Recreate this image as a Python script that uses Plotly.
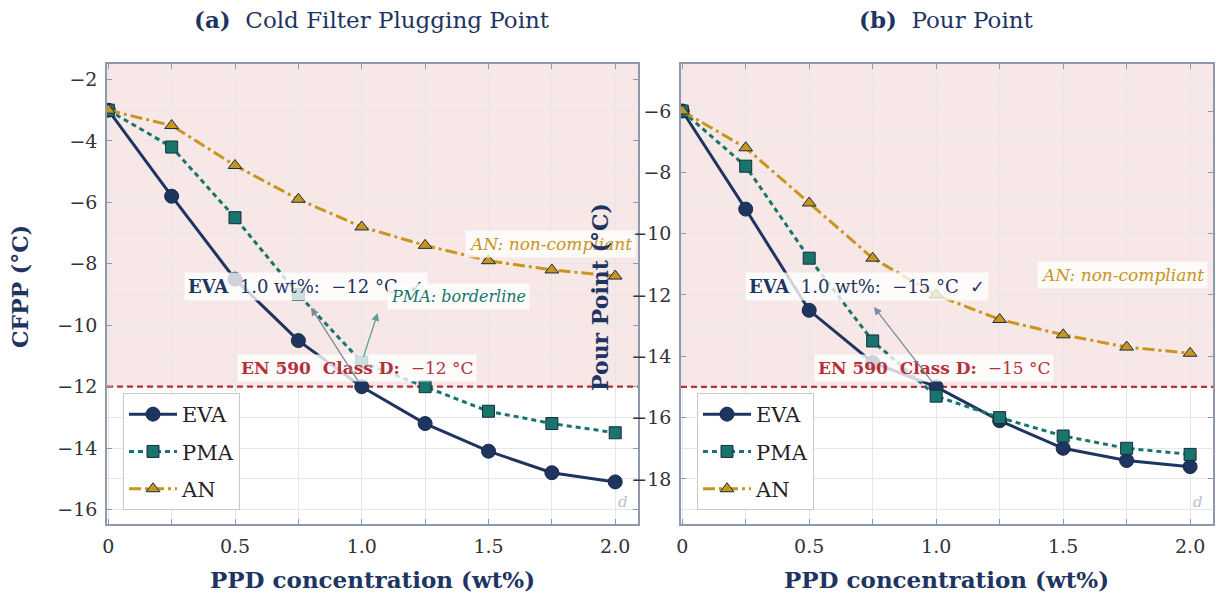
import plotly.graph_objects as go

# PPD dosage (wt%)
conc = [0, 0.25, 0.5, 0.75, 1.0, 1.25, 1.5, 1.75, 2.0]

# Cold filter plugging point (°C)
cfpp_eva = [-3, -5.8, -8.5, -10.5, -12.0, -13.2, -14.1, -14.8, -15.1]
cfpp_pma = [-3, -4.2, -6.5, -9.0, -11.2, -12.0, -12.8, -13.2, -13.5]
cfpp_an = [-3, -3.5, -4.8, -5.9, -6.8, -7.4, -7.9, -8.2, -8.4]

# Pour point (°C)
pp_eva = [-6, -9.2, -12.5, -14.2, -15.0, -16.1, -17.0, -17.4, -17.6]
pp_pma = [-6, -7.8, -10.8, -13.5, -15.3, -16.0, -16.6, -17.0, -17.2]
pp_an = [-6, -7.2, -9.0, -10.8, -12.0, -12.8, -13.3, -13.7, -13.9]

# EN 590 Class D limits
cfpp_limit = -12
pp_limit = -15

x_tickvals = [0, 0.5, 1.0, 1.5, 2.0]
x_ticktext = ["0", "0.5", "1.0", "1.5", "2.0"]

X_RANGE = [-0.005, 2.09]
Y_RANGE_A = [-16.47, -1.5]
Y_RANGE_B = [-19.47, -4.47]

FONT = "'DejaVu Serif', serif"
NAVY = "#1e3461"
TEAL = "#17756b"
GOLD = "#c8951d"
RED = "#b3313b"
PINK = "#f7e7e7"
GRID = "#e4e7eb"
FRAME = "#8e9aab"
TXT = "#333333"

fig = go.Figure()

# Limit lines first so the series sit on top of them
for xa, ya, lim in (("x", "y", cfpp_limit), ("x2", "y2", pp_limit)):
    fig.add_trace(go.Scatter(
        x=X_RANGE, y=[lim, lim], xaxis=xa, yaxis=ya, mode="lines",
        line=dict(color=RED, width=2.2, dash="6px,4px"),
        showlegend=False, hoverinfo="skip",
    ))

series = [
    ("EVA", NAVY, "solid", "circle", 14, cfpp_eva, pp_eva),
    ("PMA", TEAL, "5px,4px", "square", 12, cfpp_pma, pp_pma),
    ("AN", GOLD, "12px,4px,3px,4px", "triangle-up", 12, cfpp_an, pp_an),
]

for name, color, dash, symbol, size, left_vals, right_vals in series:
    for xa, ya, vals, leg in (("x", "y", left_vals, "legend"), ("x2", "y2", right_vals, "legend2")):
        fig.add_trace(go.Scatter(
            x=conc, y=vals, xaxis=xa, yaxis=ya, name=name,
            mode="lines+markers",
            line=dict(color=color, width=3, dash=dash),
            marker=dict(symbol=symbol, size=size, color=color,
                        line=dict(color="#1a2a40", width=1)),
            legend=leg, legendgroup=name + leg,
        ))

axis_common = dict(
    showline=True, linecolor=FRAME, linewidth=1.5, mirror="ticks",
    ticks="inside", ticklen=5, tickcolor=FRAME, tickwidth=1,
    showgrid=True, gridcolor=GRID, gridwidth=1, zeroline=False,
    tickfont=dict(family=FONT, size=19, color=TXT), automargin=False,
    ticklabelstandoff=4,
)

x_common = dict(axis_common, range=X_RANGE, tickvals=x_tickvals, ticktext=x_ticktext,
                minor=dict(dtick=0.25, tick0=0, ticks="inside", ticklen=5, tickcolor=FRAME,
                           showgrid=True, gridcolor=GRID))

fig.update_layout(
    width=1216, height=599,
    margin=dict(l=0, r=0, t=0, b=0),
    paper_bgcolor="white", plot_bgcolor="white",
    font=dict(family=FONT, color=NAVY),
    xaxis=dict(x_common, domain=[0.088, 0.5247], anchor="y"),
    yaxis=dict(axis_common, domain=[0.1252, 0.893], anchor="x", range=Y_RANGE_A,
               dtick=2, tick0=0,
               minor=dict(dtick=1, tick0=0, ticks="", showgrid=True, gridcolor=GRID)),
    xaxis2=dict(x_common, domain=[0.560, 0.9975], anchor="y2"),
    yaxis2=dict(axis_common, domain=[0.1252, 0.893], anchor="x2", range=Y_RANGE_B,
                dtick=2, tick0=0,
                minor=dict(dtick=1, tick0=0, ticks="", showgrid=True, gridcolor=GRID)),
    showlegend=True,
)

legend_common = dict(
    bgcolor="white", bordercolor="#c9c9c9", borderwidth=1,
    font=dict(family=FONT, size=21, color="#222222"),
    xanchor="left", yanchor="top", traceorder="grouped", tracegroupgap=7,
    itemwidth=48,
)
fig.update_layout(
    legend=dict(legend_common, x=123 / 1216, y=1 - 393 / 599),
    legend2=dict(legend_common, x=697 / 1216, y=1 - 393 / 599),
)

# Non-compliant zone above the limit
for xr, yr, lim, top in (("x", "y", cfpp_limit, Y_RANGE_A[1]), ("x2", "y2", pp_limit, Y_RANGE_B[1])):
    fig.add_shape(type="rect", xref=xr + " domain", yref=yr, x0=0, x1=1, y0=lim, y1=top,
                  fillcolor=PINK, line=dict(width=0), layer="below")

BOX = "rgba(255,255,255,0.78)"

def note(text, x, y, xr, yr, color, size=17):
    fig.add_annotation(text=text, x=x, y=y, xref=xr, yref=yr, showarrow=False,
                       font=dict(family=FONT, size=size, color=color),
                       bgcolor=BOX, borderpad=3)

def arrow(head, tail, xr, yr, color):
    fig.add_annotation(text="", x=head[0], y=head[1], ax=tail[0], ay=tail[1],
                       xref=xr, yref=yr, axref=xr, ayref=yr, showarrow=True,
                       arrowhead=2, arrowsize=1.2, arrowwidth=1.3, arrowcolor=color,
                       startstandoff=4)

# Panel (a) notes; the PMA box sits over the end of the EVA box
note("<i>AN: non-compliant</i>", 1.745, -7.35, "x", "y", GOLD)
note("<b>EN 590  Class D:</b>  −12 °C", 0.98, -11.38, "x", "y", RED)
note("<b>EVA</b>  1.0 wt%:  −12 °C  ✓", 0.78, -8.75, "x", "y", NAVY, 18)
arrow((0.80, -9.43), (1.0, -12.0), "x", "y", "#7b8a9e")
note("<i>PMA: borderline</i>", 1.38, -9.08, "x", "y", TEAL, 16)
arrow((1.063, -9.6), (1.0, -11.2), "x", "y", "#5f9e95")

# Panel (b) notes
note("<i>AN: non-compliant</i>", 1.735, -11.35, "x2", "y2", GOLD)
note("<b>EN 590  Class D:</b>  −15 °C", 0.99, -14.38, "x2", "y2", RED)
note("<b>EVA</b>  1.0 wt%:  −15 °C  ✓", 0.727, -11.74, "x2", "y2", NAVY, 18)
arrow((0.755, -12.39), (1.0, -15.0), "x2", "y2", "#7b8a9e")

# Corner marks
for xr, yr in (("x", "y"), ("x2", "y2")):
    fig.add_annotation(text="<i>d</i>", x=0.985, y=0.025, xref=xr + " domain", yref=yr + " domain",
                       showarrow=False, font=dict(family=FONT, size=15, color="#b9c1cb"))

def paper_text(text, cx, cy, size=23, angle=0):
    fig.add_annotation(text=text, x=cx / 1216, y=1 - cy / 599, xref="paper", yref="paper",
                       xanchor="center", yanchor="middle", showarrow=False, textangle=angle,
                       font=dict(family=FONT, size=size, color=NAVY))

# Panel titles
paper_text("<b>(a)</b>  Cold Filter Plugging Point", 372, 20)
paper_text("<b>(b)</b>  Pour Point", 946, 20)

# Axis titles
paper_text("<b>PPD concentration (wt%)</b>", 372, 579)
paper_text("<b>PPD concentration (wt%)</b>", 946, 579)
paper_text("<b>CFPP (°C)</b>", 20, 287, size=22, angle=-90)
paper_text("<b>Pour Point (°C)</b>", 600, 297, size=22, angle=-90)

fig.write_html("out.html")
